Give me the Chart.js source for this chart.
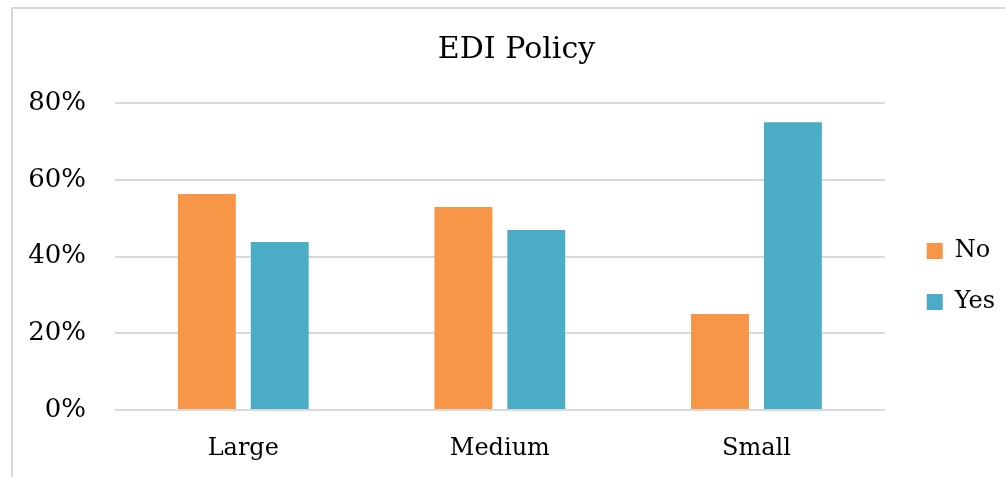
<!DOCTYPE html>
<html>
<head>
<meta charset="utf-8">
<script src="https://cdn.jsdelivr.net/npm/chart.js@4"></script>
<style>
    html, body { margin: 0; padding: 0; background: #fff; overflow: hidden; }
    #wrap { width: 1005px; height: 477px; position: relative; }
</style>
</head>
<body>
<div id="wrap"><canvas id="grafico" width="1005" height="477"></canvas></div>
<script>
// dados
const categorias = ['Large', 'Medium', 'Small'];
const valoresNo = [56.3, 52.9, 25.0];
const valoresYes = [43.8, 46.9, 75.0];
const ticksY = [0, 20, 40, 60, 80];

const fonte = "'DejaVu Serif', serif";
const corGrade = '#d9d9d9';

// moldura cinza (só a borda de cima e a da esquerda aparecem no recorte)
const moldura = {
    id: 'moldura',
    beforeDraw(chart) {
        const c = chart.ctx;
        c.save();
        c.strokeStyle = corGrade;
        c.lineWidth = 2;
        c.beginPath();
        c.moveTo(12, 477);
        c.lineTo(12, 8);
        c.lineTo(chart.width, 8);
        c.stroke();
        c.restore();
    }
};

new Chart(document.getElementById('grafico'), {
    type: 'bar',
    data: {
        labels: categorias,
        datasets: [
            { label: 'No', data: valoresNo, backgroundColor: '#F79646' },
            { label: 'Yes', data: valoresYes, backgroundColor: '#4BACC6' },
        ],
    },
    options: {
        responsive: false,
        animation: false,
        categoryPercentage: 0.568,
        barPercentage: 0.795,
        layout: { padding: { left: 28 } },
        scales: {
            x: {
                grid: { display: false, drawTicks: false },
                border: { display: false },
                ticks: { color: '#000', padding: 24, font: { family: fonte, size: 24 } },
                afterFit: s => { s.height = 67; },
            },
            y: {
                min: 0,
                max: 80,
                afterBuildTicks: s => { s.ticks = ticksY.map(v => ({ value: v })); },
                grid: { color: corGrade, lineWidth: 2, drawTicks: false },
                border: { display: false },
                ticks: {
                    color: '#000',
                    padding: 29,
                    font: { family: fonte, size: 26 },
                    callback: v => v + '%',
                },
                afterFit: s => { s.width = 87; },
            },
            // eixo vazio só para afastar a legenda da área do gráfico
            folga: {
                position: 'right',
                display: true,
                grid: { display: false, drawTicks: false },
                border: { display: false },
                ticks: { display: false },
                afterFit: s => { s.width = 15; },
            },
        },
        plugins: {
            title: {
                display: true,
                text: 'EDI Policy',
                color: '#000',
                font: { family: fonte, size: 30, weight: 'normal' },
                padding: { top: 32, bottom: 35 },
            },
            legend: {
                position: 'right',
                fullSize: false,
                title: { display: true, text: ' ', font: { size: 10 }, padding: { top: 28, bottom: 0 } },
                labels: {
                    boxWidth: 16,
                    boxHeight: 16,
                    padding: 27,
                    color: '#000',
                    font: { family: fonte, size: 24 },
                },
            },
            tooltip: { enabled: false },
        },
    },
    plugins: [moldura],
});
</script>
</body>
</html>
